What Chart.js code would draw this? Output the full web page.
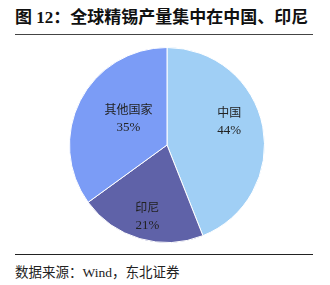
<!DOCTYPE html>
<html>
<head>
<meta charset="utf-8">
<script src="https://cdn.jsdelivr.net/npm/chart.js@4"></script>
<style>
  body { margin: 0; width: 330px; height: 285px; background: #fff; position: relative; overflow: hidden; }
  .title { position: absolute; left: 15px; top: 3px; width: 298px; font: bold 17px "Liberation Serif", "Noto Sans CJK SC", serif; color: #111; border-bottom: 1.5px solid #444; padding-bottom: 6px; white-space: nowrap; }
  .source { position: absolute; left: 15px; top: 254px; width: 298px; border-top: 1px solid #222; font: 13.5px "Liberation Serif", "Noto Sans CJK SC", serif; color: #222; padding-top: 6px; white-space: nowrap; }
  .wrap { position: absolute; left: 69px; top: 47px; width: 196px; height: 196px; }
</style>
</head>
<body>
<div class="title">图 12：全球精锡产量集中在中国、印尼</div>
<div class="wrap"><canvas id="pie"></canvas></div>
<div class="source">数据来源：Wind，东北证券</div>
<script>
// values
const regions = ['中国', '印尼', '其他国家'];
const shares = [44, 21, 35];
const sliceColors = ['#A0CFF5', '#5F62A8', '#7B9CF6'];
// small label nudges (px) so labels sit where the original placed them
const labelNudge = [[0, -12], [-2, 11], [18, 2]];

const sliceLabels = {
    id: 'sliceLabels',
    afterDatasetsDraw(chart) {
        const ctx = chart.ctx;
        const arcs = chart.getDatasetMeta(0).data;
        ctx.save();
        ctx.fillStyle = '#222';
        ctx.textAlign = 'center';
        ctx.textBaseline = 'middle';
        arcs.forEach((arc, i) => {
            const mid = (arc.startAngle + arc.endAngle) / 2;
            const r = arc.outerRadius * 0.65;
            const x = arc.x + Math.cos(mid) * r + labelNudge[i][0];
            const y = arc.y + Math.sin(mid) * r + labelNudge[i][1];
            ctx.font = '12px "Noto Sans CJK SC", serif';
            ctx.fillText(regions[i], x, y - 9);
            ctx.font = '13px "Liberation Serif", serif';
            ctx.fillText(shares[i] + '%', x, y + 9);
        });
        ctx.restore();
    }
};

new Chart(document.getElementById('pie'), {
    type: 'pie',
    data: {
        labels: regions,
        datasets: [{
            data: shares,
            backgroundColor: sliceColors,
            borderColor: '#fff',
            borderWidth: 1
        }]
    },
    options: {
        responsive: true,
        maintainAspectRatio: false,
        animation: false,
        layout: { padding: 0 },
        plugins: {
            legend: { display: false },
            tooltip: { enabled: false }
        }
    },
    plugins: [sliceLabels]
});
</script>
</body>
</html>
